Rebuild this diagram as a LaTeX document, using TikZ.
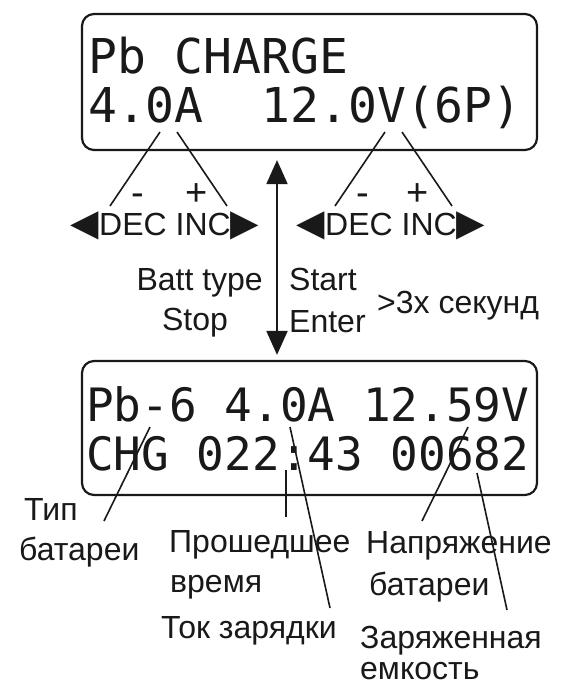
\documentclass[tikz,border=0pt]{standalone}
\usepackage{fontspec}
\setmainfont{Liberation Sans}
\newfontfamily\lcdfont{DejaVu Sans Mono}
\newfontfamily\arrowglyph{DejaVu Sans}
\usetikzlibrary{arrows.meta}
\definecolor{inkgray}{RGB}{25,25,25}
\tikzset{
  lcdbox/.style={
    draw=inkgray, line width=2.2pt, rounded corners=12pt,
    minimum width=455pt, minimum height=136pt, inner sep=0pt
  },
  lcdline/.style={
    anchor=base west, inner sep=0pt, text=inkgray,
    font=\lcdfont\fontsize{48}{48}\selectfont
  },
  lcdlinesmall/.style={
    lcdline, font=\lcdfont\fontsize{46}{46}\selectfont
  },
  keytext/.style={
    inner sep=0pt, text=inkgray, anchor=base west,
    font=\fontsize{32}{38}\selectfont
  },
  signtext/.style={
    keytext, anchor=base, font=\fontsize{38}{38}\selectfont
  },
  pointer/.style={draw=inkgray, line width=1.6pt},
  modeflow/.style={
    {Triangle[length=24pt,width=21pt]}-{Triangle[length=24pt,width=21pt]},
    line width=2pt, draw=inkgray
  }
}
\newcommand{\keyleft}{{\arrowglyph\fontsize{37}{37}\selectfont ◀}}
\newcommand{\keyright}{{\arrowglyph\fontsize{37}{37}\selectfont ▶}}

\begin{document}
\begin{tikzpicture}[x=1pt, y=-1pt]

\useasboundingbox (0,0) rectangle (563,688);

%--------------------------------------------------
% Setup screen
%--------------------------------------------------
\node[lcdbox] (lcdtop) at (309.5,82) {};
\node[lcdline] (topline1) at (88,73) {Pb CHARGE};
\node[lcdline] (topline2) at (88,122) {4.0A\ \ 12.0V(6P)};

% current / voltage keys
\node[keytext, anchor=base] (curkeys) at (165,235) {\keyleft DEC INC\keyright};
\node[keytext, anchor=base] (voltkeys) at (391,235) {\keyleft DEC INC\keyright};

\node[signtext] (curminus) at (138,205) {-};
\node[signtext] (curplus) at (197,205) {+};
\node[signtext] (voltminus) at (363,205) {-};
\node[signtext] (voltplus) at (418,205) {+};

\coordinate (curdec)  at (160,132);  \coordinate (curdecend)  at (110,206);
\coordinate (curinc)  at (177,132);  \coordinate (curincend)  at (227,206);
\coordinate (voltdec) at (385,132);  \coordinate (voltdecend) at (335,206);
\coordinate (voltinc) at (402,132);  \coordinate (voltincend) at (452,206);

\draw[pointer] (curdec) -- (curdecend);
\draw[pointer] (curinc) -- (curincend);
\draw[pointer] (voltdec) -- (voltdecend);
\draw[pointer] (voltinc) -- (voltincend);

%--------------------------------------------------
% Switching between the screens
%--------------------------------------------------
\node[keytext, anchor=base east] (batttype) at (263,290) {Batt type};
\node[keytext, anchor=base] (stopkey) at (195,330) {Stop};
\node[keytext] (startkey) at (289,290) {Start};
\node[keytext] (enterkey) at (289,332) {Enter};
\node[keytext] (holdtime) at (377,313) {>3x секунд};

%--------------------------------------------------
% Charging screen
%--------------------------------------------------
\node[lcdbox, minimum height=134pt] (lcdbot) at (309.5,428) {};
\node[lcdlinesmall] (botline1) at (86,421) {Pb-6 4.0A 12.59V};
\node[lcdlinesmall] (botline2) at (86,470) {CHG 022:43 00682};

\coordinate (modex) at (277,0);
\draw[modeflow, shorten <=9pt, shorten >=5pt]
  (lcdtop.south -| modex) -- (lcdbot.north -| modex);

% readouts and their names
\node[keytext] (typename) at (24,520) {Тип};
\node[keytext] (typename2) at (19,560) {батареи};
\node[keytext] (timename) at (169,552) {Прошедшее};
\node[keytext] (timename2) at (170,592) {время};
\node[keytext] (curname) at (161,638) {Ток зарядки};
\node[keytext] (voltname) at (366,553) {Напряжение};
\node[keytext] (voltname2) at (369,595) {батареи};
\node[keytext] (capname) at (360,648) {Заряженная};
\node[keytext] (capname2) at (360,679) {емкость};

\coordinate (typept)  at (150,427);  \coordinate (typeend)  at (104,521);
\coordinate (timept)  at (286,470);  \coordinate (timeend)  at (286,517);
\coordinate (curpt)   at (290,427);  \coordinate (curend)   at (330,608);
\coordinate (voltpt)  at (468,427);  \coordinate (voltend)  at (422,521);
\coordinate (cappt)   at (477,473);  \coordinate (capend)   at (507,610);

\draw[pointer] (typept) -- (typeend);
\draw[pointer] (timept) -- (timeend);
\draw[pointer] (curpt) -- (curend);
\draw[pointer] (voltpt) -- (voltend);
\draw[pointer] (cappt) -- (capend);

\end{tikzpicture}
\end{document}
